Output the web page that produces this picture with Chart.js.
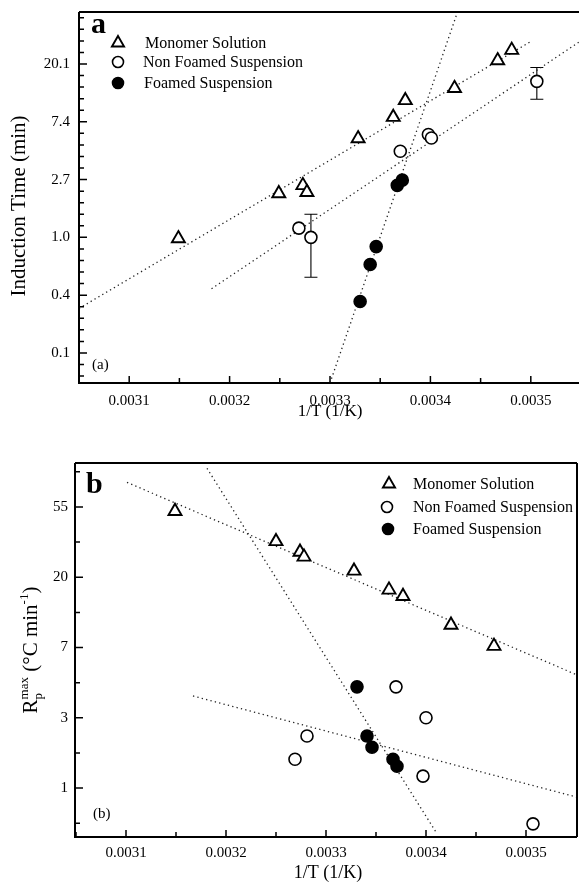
<!DOCTYPE html>
<html><head><meta charset="utf-8">
<script src="https://cdn.jsdelivr.net/npm/chart.js@4/dist/chart.umd.min.js"></script>
<style>
html,body{margin:0;padding:0;background:#fff;width:579px;height:888px;overflow:hidden}
.c{position:absolute;left:0;width:579px;height:444px}
canvas{display:block}
</style></head><body>
<div class="c" style="top:0"><canvas id="ca" width="579" height="444"></canvas></div>
<div class="c" style="top:444px"><canvas id="cb" width="579" height="444"></canvas></div>
<script>
// ---------- DATA ----------
const seriesNames = ["Monomer Solution", "Non Foamed Suspension", "Foamed Suspension"];
const xTickVals = [0.0031, 0.0032, 0.0033, 0.0034, 0.0035];
const xTickLabels = ["0.0031", "0.0032", "0.0033", "0.0034", "0.0035"];

// Panel (a): ln(induction time)
const aYTickVals = [-2, -1, 0, 1, 2, 3];
const aYTickLabels = ["0.1", "0.4", "1.0", "2.7", "7.4", "20.1"];
const aMonoX  = [0.003149, 0.003249, 0.003273, 0.003277, 0.003328, 0.003363, 0.003375, 0.003424, 0.003467, 0.003481];
const aMonoY  = [-0.02, 0.76, 0.90, 0.78, 1.71, 2.08, 2.37, 2.58, 3.06, 3.24];
const aNonX   = [0.003269, 0.003281, 0.003370, 0.003398, 0.003401, 0.003506];
const aNonY   = [0.16, 0.00, 1.49, 1.78, 1.72, 2.70];
const aNonErrLo = [null, -0.69, null, null, null, 2.39];
const aNonErrHi = [null, 0.40, null, null, null, 2.94];
const aFoamX  = [0.003330, 0.003340, 0.003346, 0.003367, 0.003372];
const aFoamY  = [-1.11, -0.47, -0.16, 0.90, 0.99];
const aFitMonoX = [0.00305, 0.003501], aFitMonoY = [-1.23, 3.40];
const aFitNonX  = [0.003182, 0.003548], aFitNonY  = [-0.89, 3.38];
const aFitFoamX = [0.0033, 0.003426],  aFitFoamY = [-2.52, 3.85];

// Panel (b): ln(Rp max)
const bYTickVals = [0, 1, 2, 3, 4];
const bYTickLabels = ["1", "3", "7", "20", "55"];
const bMonoX = [0.003149, 0.003250, 0.003274, 0.003278, 0.003328, 0.003363, 0.003377, 0.003425, 0.003468];
const bMonoY = [3.94, 3.51, 3.36, 3.29, 3.09, 2.82, 2.73, 2.32, 2.02];
const bNonX  = [0.003370, 0.003400, 0.003281, 0.003269, 0.003397, 0.003507];
const bNonY  = [1.44, 1.00, 0.74, 0.41, 0.17, -0.51];
const bFoamX = [0.003331, 0.003341, 0.003346, 0.003367, 0.003371];
const bFoamY = [1.44, 0.74, 0.58, 0.41, 0.31];
const bFitMonoX = [0.003101, 0.003551], bFitMonoY = [4.35, 1.61];
const bFitNonX  = [0.003167, 0.003551], bFitNonY  = [1.31, -0.13];
const bFitFoamX = [0.003181, 0.003411], bFitFoamY = [4.55, -0.65];

// ---------- HELPERS ----------
const SERIF = "'Liberation Serif','Times New Roman',serif";
const pts = (xs, ys) => xs.map((x, i) => ({x, y: ys[i]}));

function markerDS(label, xs, ys, kind) {
  const tri = kind === 'tri', filled = kind === 'fill';
  return {
    type: 'scatter', label, data: pts(xs, ys), order: 1,
    pointStyle: tri ? 'triangle' : 'circle',
    pointRadius: tri ? 7.5 : 6, pointHoverRadius: tri ? 7.5 : 6,
    pointBorderWidth: tri ? 1.9 : 1.6,
    pointBorderColor: '#000',
    pointBackgroundColor: filled ? '#000' : '#fff',
    borderColor: '#000', backgroundColor: filled ? '#000' : '#fff',
    kind
  };
}
function fitDS(xs, ys) {
  return {
    type: 'line', label: 'fit', data: pts(xs, ys), order: 2,
    borderColor: '#222', borderWidth: 1.3, borderDash: [1.3, 3.2],
    pointRadius: 0, fill: false, tension: 0, isFit: true
  };
}

function drawMarker(ctx, kind, x, y, r) {
  ctx.save();
  ctx.strokeStyle = '#000';
  ctx.beginPath();
  if (kind === 'tri') {
    ctx.lineWidth = 1.9;
    ctx.moveTo(x, y - r);
    ctx.lineTo(x + r * Math.sqrt(3) / 2, y + r / 2);
    ctx.lineTo(x - r * Math.sqrt(3) / 2, y + r / 2);
    ctx.closePath();
    ctx.fillStyle = '#fff';
  } else {
    ctx.lineWidth = 1.6;
    ctx.arc(x, y, r, 0, Math.PI * 2);
    ctx.fillStyle = kind === 'fill' ? '#000' : '#fff';
  }
  ctx.fill(); ctx.stroke();
  ctx.restore();
}

const decor = {
  id: 'decor',
  beforeDatasetsDraw(chart) {
    const o = chart.options.plugins.decor;
    const ctx = chart.ctx, xs = chart.scales.x, ys = chart.scales.y;
    if (o.errors) {
      ctx.save(); ctx.strokeStyle = '#000'; ctx.lineWidth = 1.1;
      o.errors.xs.forEach((xv, i) => {
        if (o.errors.lo[i] == null) return;
        const px = xs.getPixelForValue(xv);
        const p1 = ys.getPixelForValue(o.errors.lo[i]);
        const p2 = ys.getPixelForValue(o.errors.hi[i]);
        ctx.beginPath();
        ctx.moveTo(px, p1); ctx.lineTo(px, p2);
        ctx.moveTo(px - 6.5, p1); ctx.lineTo(px + 6.5, p1);
        ctx.moveTo(px - 6.5, p2); ctx.lineTo(px + 6.5, p2);
        ctx.stroke();
      });
      ctx.restore();
    }
  },
  afterDraw(chart) {
    const o = chart.options.plugins.decor;
    const ctx = chart.ctx, a = chart.chartArea, xs = chart.scales.x, ys = chart.scales.y;
    ctx.save();
    ctx.strokeStyle = '#000';
    // frame
    ctx.lineWidth = 2;
    ctx.beginPath();
    ctx.moveTo(a.left, a.top); ctx.lineTo(a.left, a.bottom); ctx.lineTo(a.right, a.bottom);
    ctx.moveTo(a.left, a.top); ctx.lineTo(a.right, a.top);
    if (o.rightBorder) { ctx.moveTo(a.right, a.top); ctx.lineTo(a.right, a.bottom); }
    ctx.stroke();
    // x ticks (inward)
    ctx.lineWidth = 1.5;
    ctx.beginPath();
    for (let k = 60; k <= 72; k++) {
      const v = k * 0.00005;
      const px = xs.getPixelForValue(v);
      if (px < a.left + 1 || px > a.right - 1) continue;
      const major = k % 2 === 0;
      ctx.moveTo(px, a.bottom); ctx.lineTo(px, a.bottom - (major ? 7 : 5));
    }
    // y ticks (inward)
    const step = o.yMinor;
    for (let k = Math.ceil(ys.min / step); k * step <= ys.max; k++) {
      const v = k * step;
      const py = ys.getPixelForValue(v);
      if (py > a.bottom - 1 || py < a.top + 1) continue;
      const major = Math.abs(Math.round(v) - v) < 1e-6;
      ctx.moveTo(a.left, py); ctx.lineTo(a.left + (major ? 8 : 5), py);
    }
    ctx.stroke();

    ctx.fillStyle = '#000';
    // panel letter
    ctx.font = 'bold 30px ' + SERIF;
    ctx.textAlign = 'left'; ctx.textBaseline = 'alphabetic';
    ctx.fillText(o.letter.t, o.letter.x, o.letter.y);
    ctx.font = '15px ' + SERIF;
    ctx.fillText(o.sub.t, o.sub.x, o.sub.y);
    // legend
    const markerDatasets = chart.data.datasets.filter(d => !d.isFit);
    ctx.font = '16px ' + SERIF;
    ctx.textBaseline = 'middle';
    markerDatasets.forEach((d, i) => {
      const L = o.legend[i];
      drawMarker(ctx, d.kind, L.mx, L.my, d.kind === 'tri' ? 7 : 5.5);
      ctx.fillStyle = '#000';
      ctx.fillText(d.label, L.tx, L.my + 1);
    });
    // x title
    ctx.textAlign = 'center'; ctx.textBaseline = 'alphabetic';
    ctx.font = o.xTitle.font;
    ctx.fillText(o.xTitle.t, o.xTitle.x, o.xTitle.y);
    // y title (rotated)
    ctx.save();
    ctx.translate(o.yTitle.x, o.yTitle.y);
    ctx.rotate(-Math.PI / 2);
    const parts = o.yTitle.parts;
    const big = '21px ' + SERIF, small = '13px ' + SERIF;
    let total = 0;
    parts.forEach(p => { ctx.font = p.small ? small : big; p.w = p.overlay ? 0 : ctx.measureText(p.t).width; if (p.widthOf) { ctx.font = small; p.w = Math.max(ctx.measureText(p.widthOf).width, ctx.measureText(p.t).width); } total += p.w; });
    let cx = -total / 2;
    ctx.textAlign = 'left';
    parts.forEach(p => {
      ctx.font = p.small ? small : big;
      ctx.fillText(p.t, cx, p.dy || 0);
      cx += p.w;
    });
    ctx.restore();
    ctx.restore();
  }
};

function makeChart(id, cfg) {
  return new Chart(document.getElementById(id), {
    data: { datasets: cfg.datasets },
    options: {
      responsive: false, animation: false, devicePixelRatio: 1,
      layout: { autoPadding: false, padding: { top: cfg.padTop, right: cfg.padRight, left: 0, bottom: 0 } },
      plugins: { legend: { display: false }, tooltip: { enabled: false }, decor: cfg.decor },
      events: [],
      scales: {
        x: {
          type: 'linear', position: 'bottom', min: cfg.xMin, max: cfg.xMax,
          afterBuildTicks: s => { s.ticks = xTickVals.map(v => ({ value: v })); },
          afterFit: s => { s.height = cfg.xH; s.paddingLeft = 0; s.paddingRight = 0; s.paddingTop = 0; s.paddingBottom = 0; },
          grid: { display: false, drawTicks: false }, border: { display: false },
          ticks: { callback: (v, i) => xTickLabels[i], font: { family: SERIF, size: 15 }, color: '#000', padding: cfg.xPad, maxRotation: 0, autoSkip: false }
        },
        y: {
          type: 'linear', position: 'left', min: cfg.yMin, max: cfg.yMax,
          afterBuildTicks: s => { s.ticks = cfg.yTickVals.map(v => ({ value: v })); },
          afterFit: s => { s.width = cfg.yW; s.paddingLeft = 0; s.paddingRight = 0; s.paddingTop = 0; s.paddingBottom = 0; },
          grid: { display: false, drawTicks: false }, border: { display: false },
          ticks: { callback: (v, i) => cfg.yTickLabels[i], font: { family: SERIF, size: 15 }, color: '#000', padding: cfg.yPad, autoSkip: false }
        }
      }
    },
    plugins: [decor]
  });
}

makeChart('ca', {
  datasets: [
    markerDS(seriesNames[0], aMonoX, aMonoY, 'tri'),
    markerDS(seriesNames[1], aNonX, aNonY, 'open'),
    markerDS(seriesNames[2], aFoamX, aFoamY, 'fill'),
    fitDS(aFitMonoX, aFitMonoY), fitDS(aFitNonX, aFitNonY), fitDS(aFitFoamX, aFitFoamY)
  ],
  padTop: 12, padRight: 0, xH: 61, yW: 79, xPad: 9, yPad: 9,
  xMin: 0.00305, xMax: 0.003548, yMin: -2.52, yMax: 3.90,
  yTickVals: aYTickVals, yTickLabels: aYTickLabels,
  decor: {
    yMinor: 0.2, rightBorder: false,
    errors: { xs: aNonX, lo: aNonErrLo, hi: aNonErrHi },
    letter: { t: 'a', x: 91, y: 33 }, sub: { t: '(a)', x: 92, y: 369 },
    legend: [{ mx: 118, my: 43, tx: 145 }, { mx: 118, my: 62, tx: 143 }, { mx: 118, my: 83, tx: 144 }],
    xTitle: { t: '1/T (1/K)', x: 330, y: 416, font: '17px ' + SERIF },
    yTitle: { x: 25, y: 206, parts: [{ t: 'Induction Time (min)' }] }
  }
});

makeChart('cb', {
  datasets: [
    markerDS(seriesNames[0], bMonoX, bMonoY, 'tri'),
    markerDS(seriesNames[1], bNonX, bNonY, 'open'),
    markerDS(seriesNames[2], bFoamX, bFoamY, 'fill'),
    fitDS(bFitMonoX, bFitMonoY), fitDS(bFitNonX, bFitNonY), fitDS(bFitFoamX, bFitFoamY)
  ],
  padTop: 19, padRight: 2, xH: 51, yW: 75, xPad: 7, yPad: 7,
  xMin: 0.003049, xMax: 0.003551, yMin: -0.697, yMax: 4.626,
  yTickVals: bYTickVals, yTickLabels: bYTickLabels,
  decor: {
    yMinor: 0.5, rightBorder: true, errors: null,
    letter: { t: 'b', x: 86, y: 49 }, sub: { t: '(b)', x: 93, y: 374 },
    legend: [{ mx: 389, my: 40, tx: 413 }, { mx: 387, my: 63, tx: 413 }, { mx: 388, my: 85, tx: 413 }],
    xTitle: { t: '1/T (1/K)', x: 328, y: 434, font: '18px ' + SERIF },
    yTitle: { x: 37, y: 206, parts: [
      { t: 'R' }, { t: 'p', small: true, dy: 5, overlay: true }, { t: 'max', small: true, dy: -9, widthOf: 'p' },
      { t: ' (°C min' }, { t: '-1', small: true, dy: -9 }, { t: ')' }
    ] }
  }
});
</script>
</body></html>
